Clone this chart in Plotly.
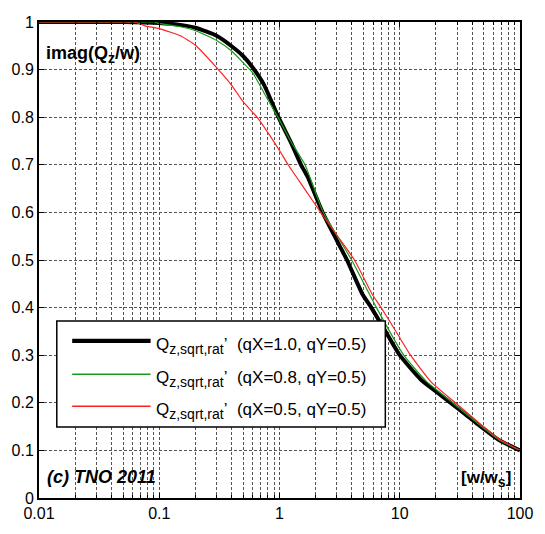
import plotly.graph_objects as go

# frequency ratio w/w_s and imag(Q_z/w) for each (qX, qY) setting
x_q10 = [0.01, 0.05, 0.1, 0.15, 0.2, 0.3, 0.4, 0.5, 0.6, 0.74, 0.98, 1.25, 1.51, 1.72, 2.28, 3.0,
         3.64, 4.9, 5.8, 7.5, 10, 15.1, 20, 26.5, 35, 43.9, 67.6, 100]
y_q10 = [1.0, 1.0, 0.998, 0.994, 0.988, 0.971, 0.949, 0.928, 0.904, 0.869, 0.8, 0.746, 0.7, 0.674, 0.6, 0.541,
         0.5, 0.428, 0.4, 0.353, 0.3, 0.248, 0.224, 0.2, 0.176, 0.156, 0.121, 0.1]

x_q08 = [0.01, 0.05, 0.09, 0.1, 0.15, 0.2, 0.3, 0.4, 0.5, 0.6, 0.74, 0.98, 1.25, 1.63, 2.28, 3.0,
         3.98, 6.4, 10.8, 16.5, 27.5, 45, 68, 100]
y_q08 = [1.0, 1.0, 1.0, 0.997, 0.99, 0.982, 0.961, 0.939, 0.914, 0.893, 0.852, 0.798, 0.748, 0.7, 0.603, 0.552,
         0.5, 0.4, 0.3, 0.246, 0.2, 0.156, 0.121, 0.1]

x_q05 = [0.01, 0.05, 0.062, 0.076, 0.1, 0.15, 0.2, 0.3, 0.4, 0.5, 0.65, 1.0, 1.18, 1.6, 2.2, 3.0,
         4.2, 5.9, 7.0, 9.5, 12.3, 18.2, 29, 46.5, 68, 100]
y_q05 = [1.0, 1.0, 1.0, 0.992, 0.986, 0.971, 0.951, 0.904, 0.867, 0.832, 0.8, 0.73, 0.7, 0.651, 0.6, 0.552,
         0.5, 0.428, 0.4, 0.346, 0.3, 0.244, 0.2, 0.156, 0.123, 0.1]

SUB = "<sub><span style='font-size:14px'>{}</span></sub>"
legend_labels = [
    "Q" + SUB.format("z,sqrt,rat") + "’&nbsp; (qX=1.0, qY=0.5)",
    "Q" + SUB.format("z,sqrt,rat") + "’&nbsp; (qX=0.8, qY=0.5)",
    "Q" + SUB.format("z,sqrt,rat") + "’&nbsp; (qX=0.5, qY=0.5)",
]
x_ticks = [0.01, 0.1, 1, 10, 100]
x_tick_text = ["0.01", "0.1", "1", "10", "100"]
y_ticks = [0, 0.1, 0.2, 0.3, 0.4, 0.5, 0.6, 0.7, 0.8, 0.9, 1.0]
y_tick_text = ["0", "0.1", "0.2", "0.3", "0.4", "0.5", "0.6", "0.7", "0.8", "0.9", "1"]

minor_x = [m * 10 ** e for e in range(-2, 2) for m in range(2, 10)]

FONT = "Arial"

series = [
    (x_q10, y_q10, "black", 4),
    (x_q08, y_q08, "#1a9a1a", 1.2),
    (x_q05, y_q05, "#ff2020", 1.2),
]

fig = go.Figure()
for (xs, ys, col, w), name in zip(series, legend_labels):
    fig.add_trace(go.Scatter(x=xs, y=ys, mode="lines", name=name,
                             line=dict(color=col, width=w, shape="spline", smoothing=0.5),
                             showlegend=False))

grid_col = "#555555"
fig.update_xaxes(type="log", range=[-2, 2], tickvals=x_ticks, ticktext=x_tick_text,
                 showgrid=True, gridcolor=grid_col, gridwidth=1, griddash="3px,2px",
                 ticks="inside", ticklen=5, tickcolor="black",
                 showline=True, linecolor="black", linewidth=2, mirror="ticks",
                 minor=dict(tickvals=minor_x, showgrid=True, gridcolor=grid_col,
                            griddash="3px,2px", gridwidth=1, ticks="inside", ticklen=3,
                            tickcolor="black"),
                 tickfont=dict(size=16, color="black", family=FONT), zeroline=False)
fig.update_yaxes(range=[0, 1], tickvals=y_ticks, ticktext=y_tick_text,
                 showgrid=True, gridcolor=grid_col, gridwidth=1, griddash="3px,2px",
                 ticks="inside", ticklen=5, tickcolor="black",
                 showline=True, linecolor="black", linewidth=2, mirror="ticks",
                 tickfont=dict(size=16, color="black", family=FONT), zeroline=False)

# legend box drawn with long line samples
lx0, lx1, ly0, ly1 = 0.037, 0.72, 0.149, 0.372
fig.add_shape(type="rect", xref="paper", yref="paper", x0=lx0, x1=lx1, y0=ly0, y1=ly1,
              line=dict(color="black", width=1.5), fillcolor="white", layer="above")
row_y = [0.33, 0.26, 0.193]
for (xs, ys, col, w), name, ry in zip(series, legend_labels, row_y):
    fig.add_shape(type="line", xref="paper", yref="paper", x0=0.069, x1=0.232, y0=ry, y1=ry,
                  line=dict(color=col, width=w + 0.3), layer="above")
    fig.add_annotation(xref="paper", yref="paper", x=0.239, y=ry, xanchor="left", yanchor="middle",
                       text=name, showarrow=False, yshift=-5,
                       font=dict(size=17, color="black", family=FONT))

fig.add_annotation(xref="paper", yref="paper", x=0.01, y=0.932, xanchor="left", yanchor="middle",
                   text="<b>imag(Q<sub><span style='font-size:14px'>z</span></sub>/w)</b>",
                   showarrow=False, font=dict(size=18, color="black", family=FONT))
fig.add_annotation(xref="paper", yref="paper", x=0.012, y=0.045, xanchor="left", yanchor="middle",
                   text="<b><i>(c) TNO 2011</i></b>", showarrow=False,
                   font=dict(size=18, color="black", family=FONT))
fig.add_annotation(xref="paper", yref="paper", x=0.985, y=0.04, xanchor="right", yanchor="middle",
                   text="<b>[w/w<sub><span style='font-size:14px'>s</span></sub>]</b>",
                   showarrow=False, font=dict(size=17, color="black", family=FONT))

fig.update_layout(width=545, height=534, margin=dict(l=33, r=20, t=22, b=25),
                  plot_bgcolor="white", paper_bgcolor="white",
                  font=dict(family=FONT, color="black"),
                  showlegend=False)

fig.write_html("out.html")
